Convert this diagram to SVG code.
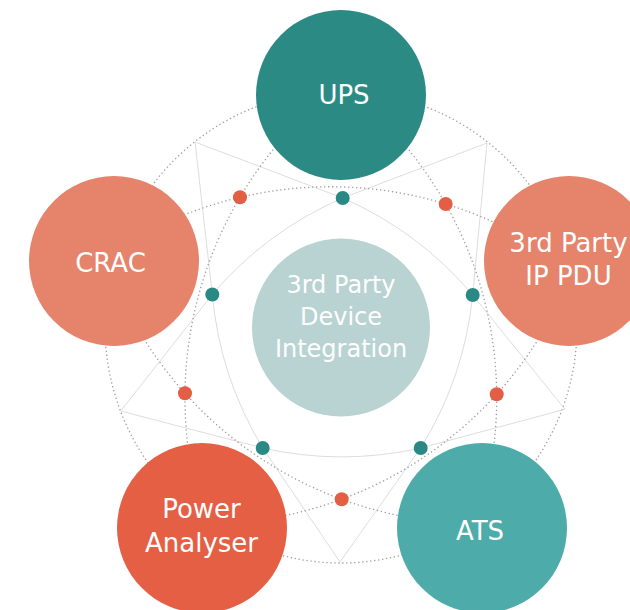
<svg xmlns="http://www.w3.org/2000/svg" width="630" height="610" viewBox="0 0 630 610">
<style>
.solid{fill:none;stroke:#dddddd;stroke-width:1}
.dotted{fill:none;stroke:#9c9c9c;stroke-width:1.3;stroke-dasharray:1.3 2.7}
.lbl{font-family:"DejaVu Sans",sans-serif;font-size:26px;fill:#ffffff;text-anchor:middle}
.clbl{font-family:"DejaVu Sans",sans-serif;font-size:24px;fill:#ffffff;text-anchor:middle}
.tdot{fill:#2a8984}
.rdot{fill:#e35e44}
</style>
<rect width="630" height="610" fill="#ffffff"/>
<g id="connectors">
  <circle class="dotted" cx="341" cy="327" r="236"/>
  <path class="solid" d="M195,142 L342.7,198 M195,142 L212.3,294.5 M487,143 L342.7,198 M487,143 L472.7,295 M565,409.3 L472.7,295 M565,409.3 L420.7,448 M340,562 L420.7,448 M340,562 L262.7,448 M120.7,411 L262.7,448 M120.7,411 L212.3,294.5"/>
  <path class="solid" d="M342.7,198 A359,359 0 0 1 472.7,295 A359,359 0 0 1 420.7,448 A359,359 0 0 1 262.7,448 A359,359 0 0 1 212.3,294.5 A359,359 0 0 1 342.7,198"/>
  <path class="dotted" d="M109.6,254.5 A394,394 0 0 1 565.9,264.8"/>
  <path class="dotted" d="M335.8,88.1 A394,394 0 0 0 206.4,526.4"/>
  <path class="dotted" d="M107.2,263.6 A394,394 0 0 0 481.8,523.5"/>
  <path class="dotted" d="M201.75,523.9 A394,394 0 0 0 575.2,263.3"/>
  <path class="dotted" d="M346.3,88.3 A394,394 0 0 1 475.5,525.5"/>
</g>
<g id="junctions">
  <circle class="tdot" cx="342.7" cy="198" r="7"/>
  <circle class="tdot" cx="472.7" cy="295" r="7"/>
  <circle class="tdot" cx="420.7" cy="448" r="7"/>
  <circle class="tdot" cx="262.7" cy="448" r="7"/>
  <circle class="tdot" cx="212.3" cy="294.5" r="7"/>
  <circle class="rdot" cx="240" cy="197.3" r="7"/>
  <circle class="rdot" cx="445.7" cy="204" r="7"/>
  <circle class="rdot" cx="496.7" cy="394.3" r="7"/>
  <circle class="rdot" cx="341.7" cy="499.3" r="7"/>
  <circle class="rdot" cx="185" cy="393.3" r="7"/>
</g>
<g id="center">
  <circle cx="341" cy="327.5" r="89" fill="#b8d3d2"/>
  <text class="clbl" x="341" y="293">3rd Party</text>
  <text class="clbl" x="341" y="325">Device</text>
  <text class="clbl" x="341" y="357">Integration</text>
</g>
<g id="ups">
  <circle cx="341" cy="95" r="85" fill="#2b8a84"/>
  <text class="lbl" x="344" y="103.5">UPS</text>
</g>
<g id="crac">
  <circle cx="114" cy="261" r="85" fill="#e5836b"/>
  <text class="lbl" x="110.5" y="271.5">CRAC</text>
</g>
<g id="ip-pdu">
  <circle cx="569" cy="261" r="85" fill="#e5836b"/>
  <text class="lbl" x="568.5" y="251.5">3rd Party</text>
  <text class="lbl" x="568.5" y="285">IP PDU</text>
</g>
<g id="power-analyser">
  <circle cx="202" cy="528" r="85" fill="#e45f44"/>
  <text class="lbl" x="201.5" y="518">Power</text>
  <text class="lbl" x="201.5" y="551.5">Analyser</text>
</g>
<g id="ats">
  <circle cx="482" cy="528" r="85" fill="#4dabaa"/>
  <text class="lbl" x="480" y="540">ATS</text>
</g>
</svg>
